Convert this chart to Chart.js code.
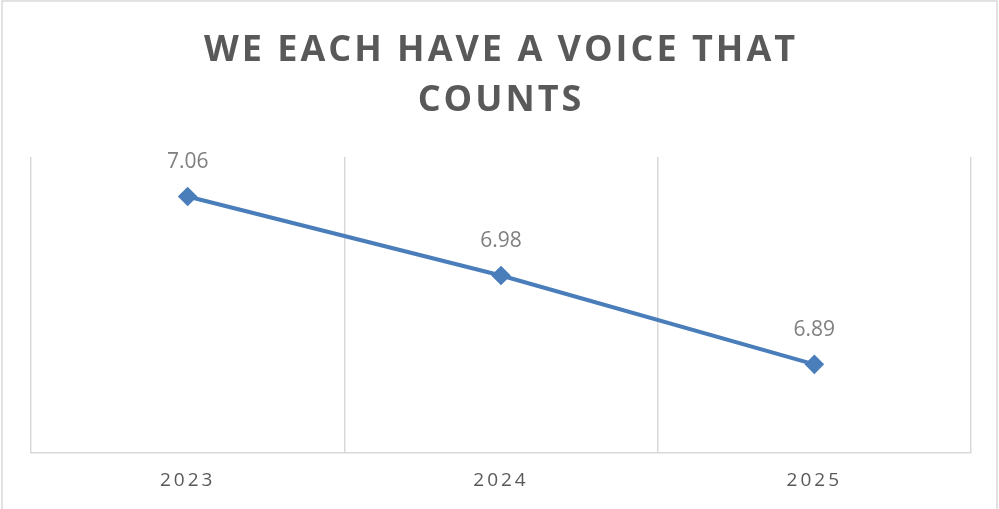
<!DOCTYPE html>
<html>
<head>
<meta charset="utf-8">
<title>We each have a voice that counts</title>
<script src="https://cdn.jsdelivr.net/npm/chart.js@4.4.1/dist/chart.umd.min.js"></script>
<style>
  html, body { margin: 0; padding: 0; background: #fff; }
  #wrap { width: 999px; height: 509px; position: relative; }
</style>
</head>
<body>
<div id="wrap"><canvas id="voiceChart"></canvas></div>
<script>
const years = ["2023", "2024", "2025"];
const scores = [7.06, 6.98, 6.89];
const titleLines = ["WE EACH HAVE A VOICE THAT", "COUNTS"];

// frame round the whole chart + letter spacing for title and axis text
const framePlugin = {
    id: "frame",
    beforeDraw(chart) {
        const ctx = chart.ctx;
        ctx.save();
        ctx.strokeStyle = "#d9d9d9";
        ctx.lineWidth = 1.5;
        ctx.strokeRect(2, 1, chart.width - 4, chart.height + 10);
        ctx.restore();
        ctx.letterSpacing = "3px";
    },
    beforeDatasetsDraw(chart) {
        chart.ctx.letterSpacing = "0px";
    }
};

// value labels above each marker
const valueLabels = {
    id: "valueLabels",
    afterDatasetsDraw(chart) {
        const ctx = chart.ctx;
        const meta = chart.getDatasetMeta(0);
        ctx.save();
        ctx.letterSpacing = "0px";
        ctx.font = "21px 'Open Sans'";
        ctx.fillStyle = "#7f7f7f";
        ctx.textAlign = "center";
        ctx.textBaseline = "middle";
        meta.data.forEach((pt, i) => {
            ctx.fillText(scores[i].toFixed(2), pt.x, pt.y - 34);
        });
        ctx.restore();
    }
};

const ctx = document.getElementById("voiceChart").getContext("2d");
new Chart(ctx, {
    type: "line",
    data: {
        labels: years,
        datasets: [{
            data: scores,
            borderColor: "#4a7ebb",
            backgroundColor: "#4a7ebb",
            borderWidth: 4,
            pointStyle: "rectRot",
            pointRadius: 7,
            pointHoverRadius: 7,
            tension: 0
        }]
    },
    options: {
        responsive: true,
        maintainAspectRatio: false,
        animation: false,
        events: [],
        layout: { padding: { left: 31, right: 28, top: 0, bottom: 1 } },
        plugins: {
            legend: { display: false },
            tooltip: { enabled: false },
            title: {
                display: true,
                text: titleLines,
                color: "#595959",
                font: { family: "'Open Sans'", size: 36, weight: "bold", lineHeight: 50 / 36 },
                padding: { top: 26, bottom: 31 }
            }
        },
        scales: {
            x: {
                offset: true,
                grid: { offset: true, color: "#d9d9d9", lineWidth: 1.5, drawTicks: false },
                border: { color: "#d9d9d9", width: 1.5 },
                ticks: {
                    color: "#595959",
                    font: { family: "'Open Sans'", size: 19 },
                    padding: 16,
                    maxRotation: 0,
                    autoSkip: false
                }
            },
            y: {
                display: false,
                min: 6.8,
                max: 7.1
            }
        }
    },
    plugins: [framePlugin, valueLabels]
});
</script>
</body>
</html>
